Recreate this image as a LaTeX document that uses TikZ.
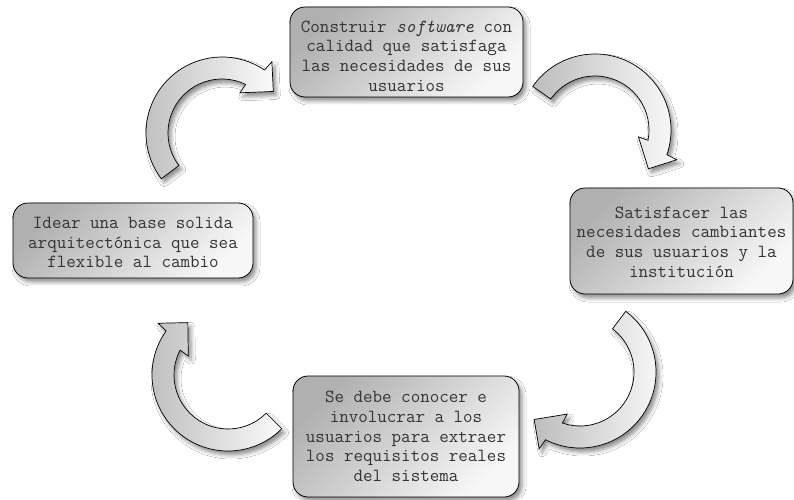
\documentclass[tikz,border=0pt]{standalone}
\usepackage{fontspec}
\usetikzlibrary{calc,shadows.blur}
\tikzset{
  boxstyle/.style={draw=black, line width=0.8pt, rounded corners=15pt,
    top color=gray!62, bottom color=gray!6, shading angle=45,
    blur shadow={shadow xshift=3pt, shadow yshift=-4pt, shadow blur radius=4pt, shadow opacity=45},
    inner sep=0pt},
  textstyle/.style={align=center, inner sep=0pt, text=black!80,
    font=\ttfamily\fontsize{18.5pt}{19.7pt}\selectfont},
  arrowstyle/.style={draw=black, line width=0.7pt, line join=miter,
    left color=gray!52, right color=gray!4,
    blur shadow={shadow xshift=3pt, shadow yshift=-4pt, shadow blur radius=4pt, shadow opacity=45}}
}
\newcommand\blockarc[3]{%
  \path[arrowstyle] ($(#1)+(#2:76pt)$) arc[start angle=#2, end angle=#3, radius=76pt]
    -- ($(#1)+({#3-1}:87pt)$) -- ($(#1)+({#3-17}:66pt)$) -- ($(#1)+({#3+10}:44pt)$)
    -- ($(#1)+({#3+8}:54pt)$) arc[start angle={#3+8}, end angle=#2, radius=54pt] -- cycle;}
\begin{document}
\begin{tikzpicture}[x=1pt,y=1pt]
\useasboundingbox (0,0) rectangle (794,499);
\fill[white] (0,0) rectangle (794,499);
% arrows
\coordinate (c1) at (222,366);
\coordinate (c2) at (595,369);
\coordinate (c3) at (580,127);
\coordinate (c4) at (228,124);
\blockarc{c1}{217}{56}
\blockarc{c2}{145}{-19}
\blockarc{c3}{53}{-117}
\blockarc{c4}{315}{144.5}
% boxes
\node[boxstyle, minimum width=233pt, minimum height=90pt] (top) at (406.5,447) {};
\node[textstyle] (toptext) at ([yshift=-4pt]top.center)
  {Construir \textit{software} con\\calidad que satisfaga\\las necesidades de sus\\usuarios};
\node[boxstyle, minimum width=223pt, minimum height=106pt] (right) at (681.5,258) {};
\node[textstyle] (righttext) at ([yshift=-1pt]right.center)
  {Satisfacer las\\necesidades cambiantes\\de sus usuarios y la\\instituci\'on};
\node[boxstyle, minimum width=240pt, minimum height=75pt] (left) at (133,258.5) {};
\node[textstyle] (lefttext) at ([yshift=-2pt]left.center)
  {Idear una base solida\\arquitect\'onica que sea\\flexible al cambio};
\node[boxstyle, minimum width=226pt, minimum height=121pt] (bottom) at (406,62.5) {};
\node[textstyle] (bottomtext) at (bottom.center)
  {Se debe conocer e\\involucrar a los\\usuarios para extraer\\los requisitos reales\\del sistema};
\end{tikzpicture}
\end{document}
